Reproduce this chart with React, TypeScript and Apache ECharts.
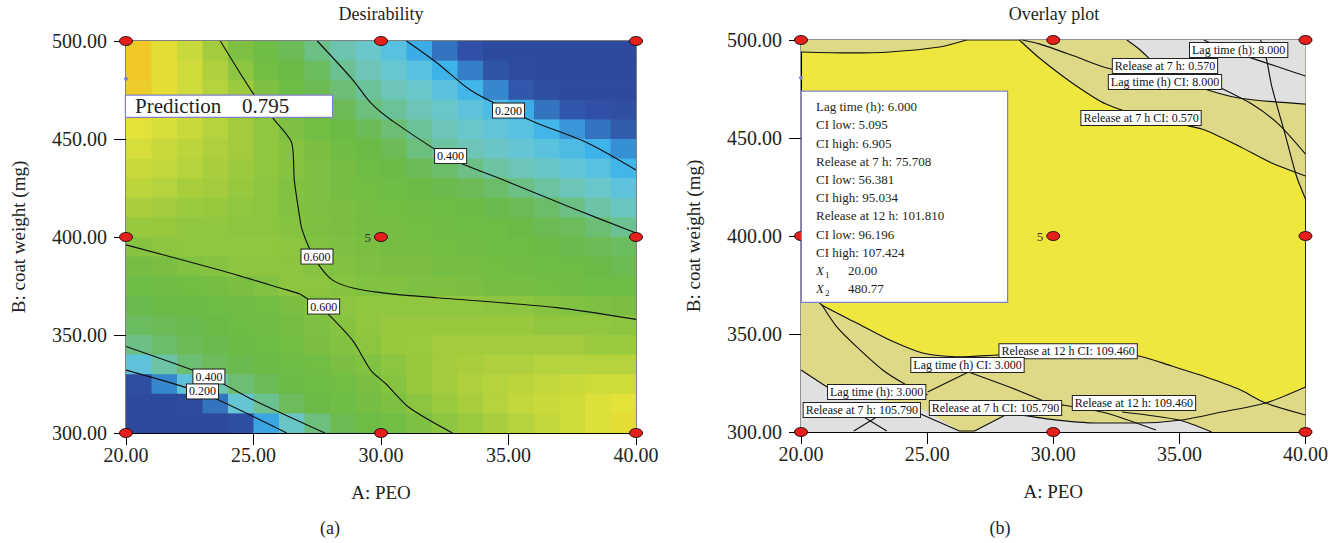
import React, { useEffect, useRef } from 'react';
import * as echarts from 'echarts';

const FONT = 'Liberation Serif';
const INK = '#231F20';

// ---------- axes / texts ----------
const A_MIN = 20, A_MAX = 40, A_STEP = 5;
const B_MIN = 300, B_MAX = 500, B_STEP = 50;
const A_NAME = 'A: PEO';
const B_NAME = 'B: coat weight (mg)';
const TITLES = ['Desirability', 'Overlay plot'];
const PANEL_TAGS = ['(a)', '(b)'];

// ---------- design points ----------
const designA = [20, 30, 40, 20, 30, 40, 20, 30, 40];
const designB = [300, 300, 300, 400, 400, 400, 500, 500, 500];
const centerRuns = '5';

// ---------- optimum flag ----------
const optA = 20.0;
const optB = 480.77;
const predictionLabel = 'Prediction';
const predictionValue = '0.795';

// ---------- desirability grid (cell centres) ----------
const cellA = [20.5, 21.5, 22.5, 23.5, 24.5, 25.5, 26.5, 27.5, 28.5, 29.5, 30.5, 31.5, 32.5, 33.5, 34.5, 35.5, 36.5, 37.5, 38.5, 39.5];
const cellB = [495, 485, 475, 465, 455, 445, 435, 425, 415, 405, 395, 385, 375, 365, 355, 345, 335, 325, 315, 305];
const desirability = [
  [0.81, 0.76, 0.71, 0.65, 0.58, 0.53, 0.47, 0.41, 0.36, 0.31, 0.25, 0.19, 0.12, 0.05, 0.01, 0, 0, 0, 0, 0],
  [0.80, 0.76, 0.72, 0.67, 0.61, 0.55, 0.50, 0.45, 0.40, 0.35, 0.30, 0.25, 0.20, 0.13, 0.06, 0.02, 0.01, 0, 0, 0],
  [0.79, 0.76, 0.72, 0.68, 0.64, 0.58, 0.53, 0.48, 0.43, 0.39, 0.35, 0.31, 0.26, 0.21, 0.14, 0.07, 0.03, 0.01, 0, 0],
  [0.77, 0.75, 0.72, 0.68, 0.64, 0.60, 0.56, 0.51, 0.47, 0.42, 0.39, 0.35, 0.31, 0.27, 0.23, 0.19, 0.12, 0.07, 0.05, 0.04],
  [0.75, 0.73, 0.71, 0.68, 0.65, 0.62, 0.58, 0.55, 0.51, 0.47, 0.43, 0.39, 0.35, 0.31, 0.28, 0.25, 0.21, 0.16, 0.12, 0.08],
  [0.73, 0.71, 0.69, 0.67, 0.65, 0.62, 0.60, 0.57, 0.54, 0.51, 0.47, 0.42, 0.38, 0.35, 0.32, 0.29, 0.26, 0.23, 0.20, 0.15],
  [0.71, 0.70, 0.68, 0.66, 0.64, 0.62, 0.60, 0.58, 0.56, 0.53, 0.50, 0.47, 0.44, 0.41, 0.38, 0.35, 0.32, 0.28, 0.25, 0.21],
  [0.69, 0.68, 0.66, 0.65, 0.63, 0.61, 0.59, 0.58, 0.56, 0.55, 0.53, 0.51, 0.49, 0.47, 0.44, 0.41, 0.38, 0.35, 0.31, 0.27],
  [0.66, 0.65, 0.64, 0.63, 0.62, 0.61, 0.59, 0.58, 0.57, 0.56, 0.55, 0.54, 0.52, 0.51, 0.49, 0.47, 0.44, 0.41, 0.37, 0.33],
  [0.63, 0.63, 0.62, 0.62, 0.61, 0.61, 0.60, 0.58, 0.57, 0.56, 0.56, 0.55, 0.54, 0.53, 0.52, 0.50, 0.48, 0.46, 0.43, 0.40],
  [0.60, 0.61, 0.62, 0.62, 0.62, 0.62, 0.61, 0.59, 0.58, 0.57, 0.56, 0.56, 0.55, 0.54, 0.53, 0.52, 0.51, 0.49, 0.47, 0.45],
  [0.56, 0.57, 0.59, 0.60, 0.61, 0.61, 0.61, 0.60, 0.59, 0.58, 0.57, 0.57, 0.56, 0.56, 0.55, 0.54, 0.53, 0.52, 0.50, 0.48],
  [0.53, 0.54, 0.55, 0.56, 0.57, 0.59, 0.61, 0.61, 0.60, 0.59, 0.59, 0.58, 0.58, 0.57, 0.56, 0.56, 0.55, 0.54, 0.53, 0.52],
  [0.49, 0.50, 0.51, 0.52, 0.54, 0.55, 0.57, 0.59, 0.61, 0.62, 0.62, 0.62, 0.62, 0.62, 0.61, 0.61, 0.60, 0.59, 0.58, 0.57],
  [0.45, 0.47, 0.49, 0.50, 0.52, 0.54, 0.56, 0.58, 0.60, 0.62, 0.63, 0.63, 0.63, 0.63, 0.63, 0.63, 0.62, 0.62, 0.62, 0.61],
  [0.41, 0.44, 0.47, 0.49, 0.51, 0.53, 0.55, 0.57, 0.59, 0.61, 0.63, 0.64, 0.65, 0.65, 0.65, 0.65, 0.65, 0.65, 0.64, 0.64],
  [0.27, 0.37, 0.43, 0.46, 0.49, 0.51, 0.53, 0.55, 0.57, 0.59, 0.61, 0.63, 0.65, 0.66, 0.67, 0.67, 0.68, 0.68, 0.68, 0.68],
  [0.03, 0.14, 0.27, 0.36, 0.43, 0.47, 0.50, 0.53, 0.55, 0.57, 0.60, 0.63, 0.65, 0.67, 0.68, 0.69, 0.70, 0.71, 0.72, 0.72],
  [0, 0, 0.02, 0.12, 0.29, 0.40, 0.46, 0.50, 0.53, 0.56, 0.58, 0.61, 0.64, 0.66, 0.68, 0.70, 0.71, 0.72, 0.74, 0.75],
  [0, 0, 0, 0, 0.03, 0.18, 0.32, 0.42, 0.48, 0.52, 0.55, 0.58, 0.61, 0.64, 0.66, 0.68, 0.70, 0.72, 0.74, 0.76],
];

// ---------- desirability contours (A, B) ----------
const contour060Upper = [[23.7, 500], [25.0, 473], [25.8, 460], [26.5, 448], [26.6, 429], [26.8, 411], [26.9, 404], [27.2, 394], [27.6, 385], [28.1, 378], [28.9, 374], [30.4, 371], [32.2, 369], [36.9, 364], [40, 358]];
const contour060Lower = [[20, 396], [23.7, 383], [26.3, 373], [26.8, 371], [27.6, 364], [27.9, 361], [28.9, 347], [29.6, 332], [30.2, 325], [31.1, 313], [32.8, 300]];
const contour040Top = [[27.5, 500], [28.9, 480.1], [29.6, 468.4], [30.4, 459.7], [32.7, 440.3], [34.8, 429.1], [37.4, 415.3], [40, 402]];
const contour020Top = [[31.0, 500], [32.2, 488.8], [33.5, 475], [35.0, 464.8], [36.1, 458.2], [38.1, 448], [40, 434.2]];
const contour040Bottom = [[20, 344.1], [23.2, 329.1], [25.0, 316.8], [27.8, 300]];
const contour020Bottom = [[20, 332.1], [23.0, 320.4], [26.3, 300]];
const leftLabelText = ['0.200', '0.400', '0.600', '0.600', '0.400', '0.200'];
const leftLabelPos = [[35.0, 464.5], [32.73, 441.3], [27.49, 390], [27.75, 364.5], [23.25, 328.8], [23.0, 321.2]];

// ---------- overlay regions (A, B) ----------
const khakiRegions = [
  [[20, 500], [20, 493.9], [21.94, 493.4], [23.52, 493.9], [25.49, 496.4], [26.56, 500]],
  [[28.66, 500], [29.45, 490.8], [30.75, 478.1], [32.09, 467.3], [33.79, 460.2], [35.89, 454.6], [37.35, 445.9], [38.66, 437.2], [39.6, 432.4], [40, 418.9], [40, 500]],
  [[20, 372], [20.55, 368.4], [20.83, 364.8], [22.21, 355.6], [23.52, 346.9], [24.82, 340.3], [26.28, 338.3], [27.79, 339.3], [30.24, 340.8], [31.82, 340.8], [33.4, 338.8], [34.7, 333.7], [36.05, 328.1], [37.35, 321.9], [38.42, 314.8], [40, 323.0], [40, 300], [20, 300]],
];
const grayRegions = [
  [[32.92, 500], [33.4, 495.4], [34.47, 483.2], [35.65, 476.5], [37.35, 470.4], [40, 467.3], [40, 500]],
  [[20, 331.6], [21.03, 323.0], [22.73, 317.3], [24.7, 312.2], [25.1, 309.7], [26.28, 300.5], [26.28, 300], [20, 300]],
  [[26.88, 300], [26.88, 300.5], [28.26, 309.7], [29.84, 306.6], [31.7, 304.6], [33.4, 304.6], [35.1, 306.1], [36.28, 300]],
];

// ---------- overlay contour lines ----------
const overlayCurves = [
  [[20, 493.9], [21.94, 493.4], [23.52, 493.9], [25.49, 496.4], [26.56, 500]],
  [[28.66, 500], [29.45, 490.8], [30.75, 478.1], [32.09, 467.3], [33.79, 460.2], [35.89, 454.6], [37.35, 445.9], [38.66, 437.2], [40, 430.6]],
  [[28.77, 500], [29.45, 498.0], [30.83, 491.8], [32.13, 485.7], [33.5, 483]],
  [[32.92, 500], [33.4, 495.4], [34.47, 483.2], [35.65, 476.5], [37.35, 470.4], [40, 467.3]],
  [[37.4, 492.8], [38.93, 486.2], [40, 481.6]],
  [[38.22, 500], [38.46, 489.8], [38.66, 476.5], [39.21, 451.0], [39.64, 430.6], [40, 418.9]],
  [[36.4, 477], [37.87, 467.3], [38.93, 457.1], [40, 441.8]],
  [[35.97, 500], [36.4, 497.5]],
  [[20.55, 368.4], [20.83, 364.8], [22.21, 355.6], [23.52, 346.9], [24.82, 340.3], [26.28, 338.3], [27.79, 339.3], [30.24, 340.8], [31.82, 340.8], [33.4, 338.8], [34.7, 333.7], [36.05, 328.1], [37.35, 321.9], [38.42, 314.8], [40, 308.7]],
  [[20.83, 364.8], [21.42, 353.6], [22.21, 343.4], [23.24, 331.6], [24.11, 324.5], [25.02, 318.9]],
  [[28.26, 309.7], [29.84, 306.6], [31.7, 304.6], [33.4, 304.6], [35.1, 306.1], [36.68, 310.2], [38.42, 314.8], [40, 323.0]],
  [[32.73, 310.2], [34.98, 306.1], [36.28, 300]],
  [[30.36, 313.8], [32.09, 309.7], [34.07, 301.0]],
  [[20, 331.6], [21.03, 323.0]],
];
const overlayPolylines = [
  [[25.02, 320.4], [26.64, 330.6], [28.26, 323.0], [29.72, 315.3], [30.4, 313.8]],
  [[24.74, 309.2], [26.28, 300.5], [26.88, 300.5], [28.26, 309.7]],
  [[22.09, 300.5], [23.0, 307.7]],
  [[22.49, 307.7], [23.4, 300.5]],
];
const rightLabelText = [
  'Lag time (h): 8.000', 'Release at 7 h: 0.570', 'Lag time (h) CI: 8.000', 'Release at 7 h CI: 0.570',
  'Release at 12 h CI: 109.460', 'Lag time (h) CI: 3.000', 'Lag time (h): 3.000', 'Release at 7 h: 105.790',
  'Release at 7 h CI: 105.790', 'Release at 12 h: 109.460',
];
const rightLabelPos = [
  [37.35, 494.9], [34.43, 486.7], [34.43, 478.6], [33.48, 460.2],
  [30.59, 341.2], [26.6, 334.2], [23.0, 320.4], [22.41, 311.2],
  [27.71, 312.2], [33.2, 314.8],
];
const overlayBoxLines = [
  'Lag time (h): 6.000', 'CI low: 5.095', 'CI high: 6.905',
  'Release at 7 h: 75.708', 'CI low: 56.381', 'CI high: 95.034',
  'Release at 12 h: 101.810', 'CI low: 96.196', 'CI high: 107.424',
];
const factorSymbols = ['X', 'X'];
const factorSubs = ['1', '2'];
const factorValues = ['20.00', '480.77'];

// ---------- colour scale ----------
const STOPS: [number, string][] = [
  [0.0, '#2D4A9C'], [0.05, '#2F50A4'], [0.1, '#3262B0'], [0.15, '#3890D4'], [0.2, '#3DB3EA'],
  [0.25, '#58C1E0'], [0.3, '#68C6D0'], [0.35, '#6CC5B6'], [0.4, '#6CC190'], [0.45, '#6CBC60'],
  [0.5, '#6BBA48'], [0.55, '#72BD44'], [0.6, '#86C340'], [0.65, '#A2CC3D'], [0.7, '#C2D73B'],
  [0.75, '#E2E23A'], [0.8, '#F0C828'],
];
const hex = (c: string) => [1, 3, 5].map((i) => parseInt(c.slice(i, i + 2), 16));
function colorOf(v: number): string {
  if (v <= STOPS[0][0]) return STOPS[0][1];
  for (let i = 1; i < STOPS.length; i++) {
    if (v <= STOPS[i][0]) {
      const [a, ca] = STOPS[i - 1];
      const [b, cb] = STOPS[i];
      const t = (v - a) / (b - a);
      const p = hex(ca), q = hex(cb);
      const m = p.map((x, k) => Math.round(x + (q[k] - x) * t));
      return `rgb(${m[0]},${m[1]},${m[2]})`;
    }
  }
  return STOPS[STOPS.length - 1][1];
}

const YELLOW = '#EFE73D';
const KHAKI = '#DDD987';
const GRAY = '#E0E0E0';

export default function App() {
  const ref = useRef<HTMLDivElement>(null);
  useEffect(() => {
    if (!ref.current) return;
    const chart = echarts.init(ref.current, null, { renderer: 'svg' });

    const heatData: number[][] = [];
    desirability.forEach((row, r) => row.forEach((v, c) => heatData.push([cellA[c], cellB[r], v])));
    const halfA = (cellA[1] - cellA[0]) / 2;
    const halfB = (cellB[0] - cellB[1]) / 2;

    const axisCommon = {
      axisLine: { show: true, onZero: false, lineStyle: { color: '#000', width: 1 } },
      axisTick: { show: true, inside: false, length: 12, lineStyle: { color: '#000', width: 1 } },
      splitLine: { show: false },
      nameLocation: 'middle' as const,
      nameTextStyle: { fontFamily: FONT, fontSize: 19, color: INK },
    };
    const tickLabel = (margin: number) => ({
      fontFamily: FONT, fontSize: 20, color: INK, margin,
      formatter: (v: number) => v.toFixed(2),
    });

    const lineS = (pts: number[][], idx: number, smooth: number | boolean) => ({
      type: 'line', xAxisIndex: idx, yAxisIndex: idx, data: pts, showSymbol: false, symbol: 'none',
      smooth, lineStyle: { color: '#111', width: 1.15 }, z: 3, silent: true,
    });
    const labelS = (texts: string[], pos: number[][], idx: number) => ({
      type: 'scatter', xAxisIndex: idx, yAxisIndex: idx, symbolSize: 1, z: 6, silent: true,
      itemStyle: { color: 'rgba(0,0,0,0)', opacity: 1 },
      data: pos.map((p) => p),
      label: {
        show: true, position: 'inside', formatter: (p: any) => texts[p.dataIndex],
        backgroundColor: '#fff', borderColor: '#222', borderWidth: 1, padding: [1, 2, 0, 2],
        fontFamily: FONT, fontSize: 12, lineHeight: 13, color: '#111', opacity: 1,
      },
    });
    const polyS = (polys: number[][][], color: string, z: number) => ({
      type: 'custom', xAxisIndex: 1, yAxisIndex: 1, z, clip: true, silent: true,
      data: polys.map((p) => [p[0][0], p[0][1]]),
      encode: { x: 0, y: 1 },
      renderItem: (params: any, api: any) => ({
        type: 'polygon',
        shape: { points: polys[params.dataIndex].map((pt) => api.coord(pt)) },
        style: { fill: color },
      }),
    });
    const dotsS = (idx: number) => ({
      type: 'scatter', xAxisIndex: idx, yAxisIndex: idx, z: 8, clip: false, silent: true,
      symbol: 'circle', symbolSize: [13, 9],
      itemStyle: { color: '#E4201C', borderColor: '#000', borderWidth: 0.8, opacity: 1 },
      data: designA.map((a, i) => {
        const isCenter = a === 30 && designB[i] === 400;
        return isCenter
          ? { value: [a, designB[i]], label: { show: true, formatter: centerRuns, position: 'left', distance: 3, fontFamily: FONT, fontSize: 13, color: '#333' } }
          : { value: [a, designB[i]] };
      }),
    });

    const boxText =
      overlayBoxLines.map((l) => `{t|${l}}`).join('\n') + '\n' +
      factorSymbols.map((s, i) => `{x|${s}}{s|${factorSubs[i]}}{v|${factorValues[i]}}`).join('\n');

    const option: any = {
      animation: false,
      textStyle: { fontFamily: FONT },
      grid: [
        { left: 126, top: 41, width: 510, height: 392, show: true, borderColor: '#000', borderWidth: 1, backgroundColor: 'transparent' },
        { left: 801, top: 40, width: 506, height: 392, show: true, borderColor: '#222', borderWidth: 1, backgroundColor: YELLOW },
      ],
      xAxis: [0, 1].map((i) => ({
        ...axisCommon, type: 'value', gridIndex: i, min: A_MIN, max: A_MAX, interval: A_STEP,
        name: A_NAME, nameGap: 50, axisLabel: tickLabel(12),
      })),
      yAxis: [0, 1].map((i) => ({
        ...axisCommon, type: 'value', gridIndex: i, min: B_MIN, max: B_MAX, interval: B_STEP,
        name: B_NAME, nameGap: 98, axisLabel: tickLabel(19),
      })),
      graphic: [
        ...TITLES.map((t, i) => ({
          type: 'text', x: i === 0 ? 381 : 1054, y: 14,
          style: { text: t, fontFamily: FONT, fontSize: 18, fill: INK, align: 'center', verticalAlign: 'middle', textAlign: 'center', textVerticalAlign: 'middle' },
        })),
        ...PANEL_TAGS.map((t, i) => ({
          type: 'text', x: i === 0 ? 330 : 1000, y: 528,
          style: { text: t, fontFamily: FONT, fontSize: 18, fill: INK, align: 'center', verticalAlign: 'middle', textAlign: 'center', textVerticalAlign: 'middle' },
        })),
      ],
      series: [
        // ---- left: desirability map ----
        {
          type: 'custom', xAxisIndex: 0, yAxisIndex: 0, z: 1, clip: true, silent: true,
          data: heatData, encode: { x: 0, y: 1 },
          renderItem: (params: any, api: any) => {
            const a = api.value(0), b = api.value(1), v = api.value(2);
            const p0 = api.coord([a - halfA, b + halfB]);
            const p1 = api.coord([a + halfA, b - halfB]);
            return {
              type: 'rect',
              shape: { x: p0[0], y: p0[1], width: p1[0] - p0[0] + 0.7, height: p1[1] - p0[1] + 0.7 },
              style: { fill: colorOf(v) },
            };
          },
        },
        lineS(contour060Upper, 0, 0.25),
        lineS(contour060Lower, 0, 0.25),
        lineS(contour040Top, 0, 0.3),
        lineS(contour020Top, 0, 0.3),
        lineS(contour040Bottom, 0, 0.2),
        lineS(contour020Bottom, 0, 0.2),
        labelS(leftLabelText, leftLabelPos, 0),
        {
          type: 'scatter', xAxisIndex: 0, yAxisIndex: 0, z: 10, clip: false, silent: true,
          symbol: 'circle', symbolSize: 4, itemStyle: { color: '#7F7FCC', opacity: 1 },
          data: [[optA, optB]],
          label: {
            show: true, position: [2, 19], opacity: 1,
            formatter: `{a|${predictionLabel}}{b|${predictionValue}}`,
            backgroundColor: '#fff', borderColor: '#8080CC', borderWidth: 1.2,
            padding: [0, 6, 0, 9], width: 191, height: 21,
            rich: {
              a: { fontFamily: FONT, fontSize: 21, color: INK, width: 107, lineHeight: 21 },
              b: { fontFamily: FONT, fontSize: 21, color: INK, lineHeight: 21 },
            },
          },
        },
        dotsS(0),
        // ---- right: overlay plot ----
        polyS(khakiRegions, KHAKI, 1),
        polyS(grayRegions, GRAY, 2),
        ...overlayCurves.map((c) => lineS(c, 1, 0.25)),
        ...overlayPolylines.map((c) => lineS(c, 1, false)),
        labelS(rightLabelText, rightLabelPos, 1),
        {
          type: 'scatter', xAxisIndex: 1, yAxisIndex: 1, z: 10, clip: false, silent: true,
          symbol: 'circle', symbolSize: 4, itemStyle: { color: '#7F7FCC', opacity: 1 },
          data: [[optA, optB]],
          label: {
            show: true, position: [3, 16], opacity: 1,
            formatter: boxText,
            backgroundColor: '#fff', borderColor: '#8080CC', borderWidth: 1.2,
            padding: [6, 10, 4, 14], width: 181, height: 200,
            rich: {
              t: { fontFamily: FONT, fontSize: 13, color: INK, lineHeight: 18.2 },
              x: { fontFamily: FONT, fontSize: 13, fontStyle: 'italic', color: INK, width: 9, lineHeight: 18.2 },
              s: { fontFamily: FONT, fontSize: 9, color: INK, width: 23, lineHeight: 18.2, verticalAlign: 'bottom' },
              v: { fontFamily: FONT, fontSize: 13, color: INK, lineHeight: 18.2 },
            },
          },
        },
        dotsS(1),
      ],
    };
    chart.setOption(option);
    return () => chart.dispose();
  }, []);
  return <div ref={ref} style={{ position: 'fixed', left: 0, top: 0, width: 1331, height: 543, background: '#fff' }} />;
}
